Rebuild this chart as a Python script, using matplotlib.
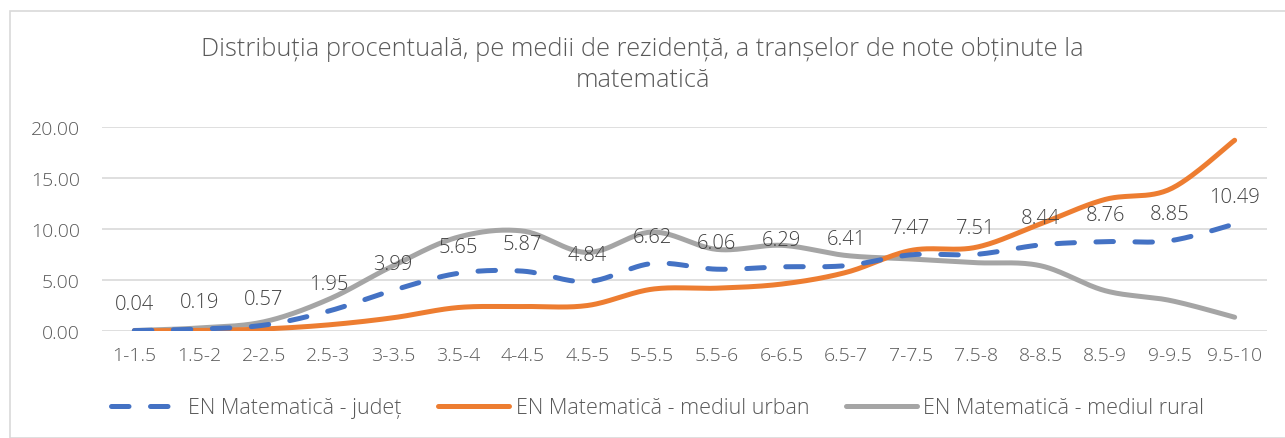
import numpy as np
import matplotlib
matplotlib.use("Agg")
import matplotlib.pyplot as plt
from matplotlib.patches import Rectangle

categories = ["1-1.5", "1.5-2", "2-2.5", "2.5-3", "3-3.5", "3.5-4", "4-4.5", "4.5-5", "5-5.5",
              "5.5-6", "6-6.5", "6.5-7", "7-7.5", "7.5-8", "8-8.5", "8.5-9", "9-9.5", "9.5-10"]
judet = [0.04, 0.19, 0.57, 1.95, 3.99, 5.65, 5.87, 4.84, 6.62, 6.06, 6.29, 6.41, 7.47, 7.51, 8.44, 8.76, 8.85, 10.49]
urban = [0.02, 0.05, 0.2, 0.6, 1.3, 2.3, 2.4, 2.5, 4.1, 4.2, 4.6, 5.75, 7.9, 8.2, 10.5, 12.9, 13.9, 18.7]
rural = [0.05, 0.3, 0.9, 3.1, 6.4, 9.2, 9.8, 7.7, 9.7, 8.0, 8.4, 7.4, 7.06, 6.7, 6.4, 3.95, 3.0, 1.35]
series_names = ["EN Matematică - județ", "EN Matematică - mediul urban", "EN Matematică - mediul rural"]
yticks = [0, 5, 10, 15, 20]
title = "Distribuția procentuală, pe medii de rezidență, a tranșelor de note obținute la\nmatematică"

TXT = "#595959"
FONT = ["Open Sans", "DejaVu Sans"]
plt.rcParams['font.family'] = FONT
plt.rcParams['font.weight'] = 'light'


def smooth(xs, ys, n=30):
    xs = np.asarray(xs, float)
    ys = np.asarray(ys, float)
    px = np.concatenate([[xs[0]], xs, [xs[-1]]])
    py = np.concatenate([[ys[0]], ys, [ys[-1]]])
    outx, outy = [], []
    t = np.linspace(0, 1, n)
    for i in range(1, len(px) - 2):
        p0 = np.array([px[i], py[i]])
        p3 = np.array([px[i + 1], py[i + 1]])
        p1 = p0 + (p3 - np.array([px[i - 1], py[i - 1]])) / 6
        p2 = p3 - (np.array([px[i + 2], py[i + 2]]) - p0) / 6
        b = ((1 - t) ** 3)[:, None] * p0 + (3 * (1 - t) ** 2 * t)[:, None] * p1 + \
            (3 * (1 - t) * t ** 2)[:, None] * p2 + (t ** 3)[:, None] * p3
        outx.extend(b[:, 0])
        outy.extend(b[:, 1])
    return np.array(outx), np.array(outy)


W, H = 1285, 439
fig = plt.figure(figsize=(W / 100, H / 100), dpi=100)
fig.patches.append(Rectangle((10 / W, 0), (W + 20) / W, 1 - 12 / H, transform=fig.transFigure,
                             fill=False, edgecolor="#d9d9d9", linewidth=1.2))

ax = fig.add_axes([102 / W, 1 - 332 / H, 1165 / W, (332 - 128) / H])
x = np.arange(len(categories))

ax.set_xlim(-0.5, len(categories) - 0.5)
ax.set_ylim(0, 20)
ax.set_yticks(yticks)
ax.set_yticklabels([f"{v:.2f}" for v in yticks])
ax.set_xticks(x)
ax.set_xticklabels(categories)
ax.tick_params(axis='both', length=0, colors=TXT, labelsize=14)
ax.tick_params(axis='x', pad=11)
ax.tick_params(axis='y', pad=16)
for s in ax.spines.values():
    s.set_visible(False)
ax.yaxis.grid(True, color="#d9d9d9", linewidth=1.2)
ax.set_axisbelow(True)

LW = 3.6
sx, sy = smooth(x, judet)
l1, = ax.plot(sx, sy, color="#4472C4", linewidth=LW, dashes=(3.5, 4.3), dash_capstyle='round',
              label=series_names[0], zorder=4)
sx, sy = smooth(x, urban)
l2, = ax.plot(sx, sy, color="#ED7D31", linewidth=LW, solid_capstyle='round', label=series_names[1], zorder=3)
sx, sy = smooth(x, rural)
l3, = ax.plot(sx, sy, color="#A5A5A5", linewidth=LW, solid_capstyle='round', label=series_names[2], zorder=2)

for xi, v in zip(x, judet):
    ax.annotate(f"{v:.2f}", (xi, v), xytext=(0, 12), textcoords="offset points",
                ha="center", va="bottom", fontsize=14.5, color="#404040", zorder=5)

fig.text(0.5, 1 - 65 / H, title, ha="center", va="center", fontsize=18.4, color=TXT,
         linespacing=1.3)

leg = fig.legend(handles=[l1, l2, l3], loc="center", bbox_to_anchor=(0.5 + 15 / W, 1 - 409 / H), ncol=3,
                 frameon=False, fontsize=15.5, handlelength=3.3, columnspacing=1.7, handletextpad=0.3)
for t in leg.get_texts():
    t.set_color(TXT)

fig.savefig("out.png", dpi=100)
